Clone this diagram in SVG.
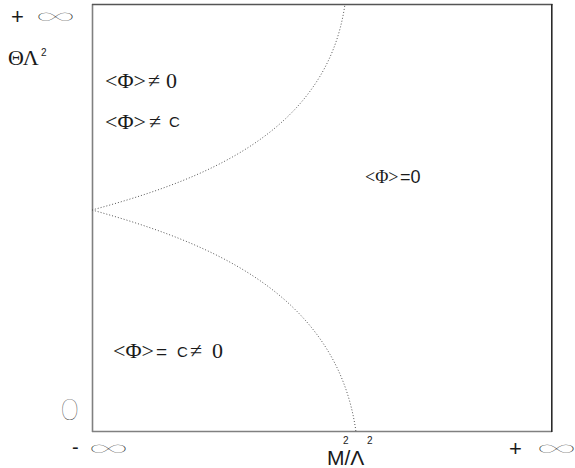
<svg xmlns="http://www.w3.org/2000/svg" width="575" height="468" viewBox="0 0 575 468">
<style>
.sans{font-family:"Liberation Sans",Arial,sans-serif;fill:#1a1a1a}
.thin{font-family:Lato,Roboto,Inter,"Liberation Sans",sans-serif;font-weight:100;fill:#1a1a1a}
.inf{font-family:"DejaVu Sans",Lato,sans-serif;font-weight:100;fill:#1a1a1a}
.dot{fill:none;stroke:#555;stroke-width:1;stroke-dasharray:1 2}
</style>
<rect width="575" height="468" fill="#fff"/>
<g id="frame">
<line x1="92.5" y1="4" x2="92.5" y2="432" stroke="#808080" stroke-width="1.6"/>
<line x1="92" y1="431.5" x2="552" y2="431.5" stroke="#808080" stroke-width="1.6"/>
<line x1="92" y1="4.5" x2="552.5" y2="4.5" stroke="#555" stroke-width="1.6"/>
<line x1="551.8" y1="4" x2="551.8" y2="432" stroke="#2a2a2a" stroke-width="1.6"/>
</g>
<g id="connectors">
<path class="dot" d="M92,210 C203,180 327,133 345,4"/>
<path class="dot" d="M92,210 C208,242 337,293 356,432"/>
</g>
<g id="axis-labels">
<text class="sans" x="11" y="24" font-size="22">+</text>
<text class="inf" x="34" y="25" font-size="28" textLength="43" lengthAdjust="spacingAndGlyphs">∞</text>
<text font-family="'Liberation Serif','DejaVu Serif',serif" fill="#1a1a1a" x="8" y="65" font-size="22">ΘΛ</text>
<text class="sans" x="41" y="56" font-size="10">2</text>
<text class="thin" x="61" y="420" font-size="30">0</text>
<text class="sans" x="72" y="454" font-size="20">-</text>
<text class="inf" x="87" y="457" font-size="28" textLength="43" lengthAdjust="spacingAndGlyphs">∞</text>
<text class="sans" x="327" y="465" font-size="21">M/Λ</text>
<text class="sans" x="343" y="444" font-size="10">2</text>
<text class="sans" x="367" y="444" font-size="10">2</text>
<text class="sans" x="509" y="456" font-size="22">+</text>
<text class="inf" x="535" y="457" font-size="28" textLength="43" lengthAdjust="spacingAndGlyphs">∞</text>
</g>
<g id="region-nonzero" font-family="'Liberation Serif','DejaVu Serif',serif" fill="#1a1a1a">
<text x="105" y="88" font-size="22">&lt;Φ&gt;<tspan x="148">≠</tspan><tspan x="166">0</tspan></text>
<text x="105" y="129" font-size="22">&lt;Φ&gt;<tspan x="149">≠</tspan></text>
<text class="sans" x="169" y="127" font-size="15">C</text>
</g>
<g id="region-zero">
<text font-family="'Liberation Serif','DejaVu Serif',serif" fill="#1a1a1a" x="365" y="183" font-size="18">&lt;Φ&gt;</text>
<text class="sans" x="400" y="183" font-size="18">=0</text>
</g>
<g id="region-constant" font-family="'Liberation Serif','DejaVu Serif',serif" fill="#1a1a1a">
<text x="113" y="358" font-size="22">&lt;Φ&gt;</text>
<text class="sans" x="156" y="358" font-size="19">=</text>
<text class="sans" x="177" y="357" font-size="15">C</text>
<text x="190" y="358" font-size="22">≠</text>
<text x="212" y="358" font-size="22">0</text>
</g>
</svg>
